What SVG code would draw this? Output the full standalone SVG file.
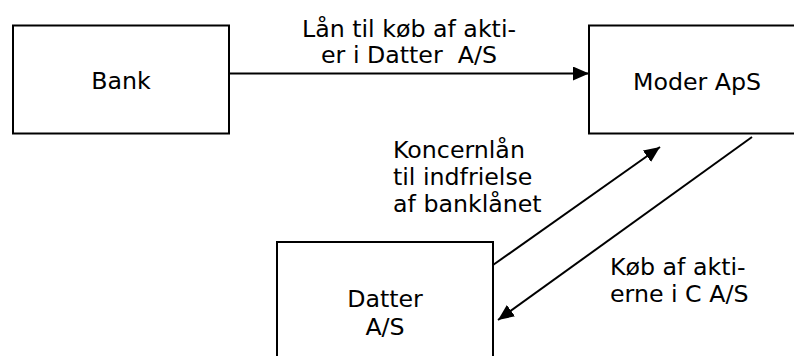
<svg xmlns="http://www.w3.org/2000/svg" width="794" height="356" viewBox="0 0 794 356">
  <style>
    .box { fill: #ffffff; stroke: #000000; stroke-width: 2; }
    .edge { stroke: #000000; stroke-width: 2; fill: none; marker-end: url(#head); }
    text { font-family: "DejaVu Sans", Verdana, sans-serif; font-size: 23.7px; fill: #000000; white-space: pre; }
    .c { text-anchor: middle; }
  </style>
  <defs>
    <marker id="head" markerUnits="userSpaceOnUse" markerWidth="17" markerHeight="14" refX="16" refY="7" orient="auto">
      <path d="M0,0 L16,7 L0,14 Z" fill="#000000"/>
    </marker>
  </defs>
  <rect width="794" height="356" fill="#ffffff"/>

  <g id="connectors">
    <g id="e-bank-moder">
      <line class="edge" x1="229" y1="73.5" x2="589" y2="73.5"/>
      <text class="c" x="409" y="36.5">Lån til køb af akti-</text>
      <text class="c" x="409" y="63">er i Datter  A/S</text>
    </g>
    <g id="e-datter-moder">
      <line class="edge" x1="493" y1="265" x2="660" y2="147"/>
      <text x="393" y="157.5">Koncernlån</text>
      <text x="393" y="185">til indfrielse</text>
      <text x="393" y="212">af banklånet</text>
    </g>
    <g id="e-moder-datter">
      <line class="edge" x1="752" y1="137" x2="498" y2="320"/>
      <text x="610" y="275">Køb af akti-</text>
      <text x="610" y="302">erne i C A/S</text>
    </g>
  </g>

  <g id="bank">
    <rect class="box" x="13" y="25.5" width="216" height="108"/>
    <text class="c" x="121" y="89">Bank</text>
  </g>

  <g id="moder">
    <rect class="box" x="589" y="25.5" width="210" height="108"/>
    <text class="c" x="697" y="89.5">Moder ApS</text>
  </g>

  <g id="datter">
    <rect class="box" x="277" y="242" width="216" height="130"/>
    <text class="c" x="385" y="306.5">Datter</text>
    <text class="c" x="385" y="335">A/S</text>
  </g>
</svg>
